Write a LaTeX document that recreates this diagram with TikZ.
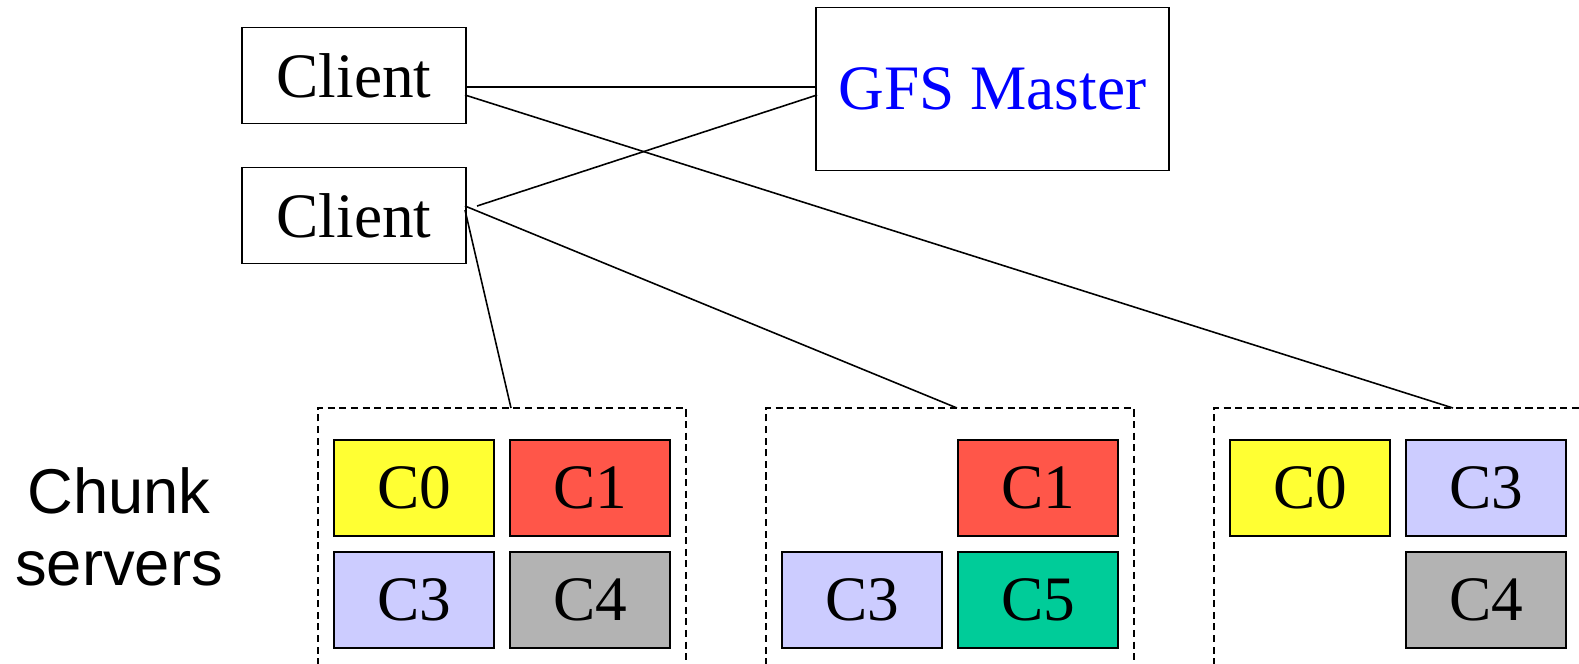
\documentclass[tikz,border=0pt]{standalone}
\usepackage{fontspec}
\setmainfont{Liberation Serif}
\setsansfont{Liberation Sans}
\definecolor{cyellow}{HTML}{FFFF33}
\definecolor{cred}{HTML}{FF5649}
\definecolor{cblue}{HTML}{CCCCFF}
\definecolor{cgray}{HTML}{B3B3B3}
\definecolor{cgreen}{HTML}{00CC99}

\begin{document}
\begin{tikzpicture}[x=0.01cm,y=-0.01cm,
	box/.style={draw,line width=0.45pt,inner sep=0pt,font=\fontsize{18}{21}\selectfont},
	client/.style={box,minimum width=2.24cm,minimum height=0.96cm},
	chunk/.style={box,line width=0.6pt,minimum width=1.6cm,minimum height=0.96cm},
	server/.style={line width=0.45pt,dash pattern=on 2pt off 1.3pt},
	link/.style={line width=0.45pt}]
	\useasboundingbox (0,0) rectangle (1579,663);
	\clip (0,0) rectangle (1579,663);
	\node[client] (cl1) at (354,75.5) {Client};
	\node[client] (cl2) at (354,215.5) {Client};
	\node[box,minimum width=3.53cm,minimum height=1.63cm,text=blue] (master) at (992.5,89) {GFS Master};
	\node[align=center,font=\sffamily\fontsize{18}{20.5}\selectfont] (label) at (119,527) {Chunk\\servers};
	% chunk servers
	\draw[server] (318,700) -- (318,408) -- (686,408) -- (686,700);
	\draw[server] (766,700) -- (766,408) -- (1134,408) -- (1134,700);
	\draw[server] (1214,700) -- (1214,408) -- (1582,408) -- (1582,700);
	\node[chunk,fill=cyellow] (s1c0) at (414,488) {C0};
	\node[chunk,fill=cred] (s1c1) at (590,488) {C1};
	\node[chunk,fill=cblue] (s1c3) at (414,600) {C3};
	\node[chunk,fill=cgray] (s1c4) at (590,600) {C4};
	\node[chunk,fill=cred] (s2c1) at (1038,488) {C1};
	\node[chunk,fill=cblue] (s2c3) at (862,600) {C3};
	\node[chunk,fill=cgreen] (s2c5) at (1038,600) {C5};
	\node[chunk,fill=cyellow] (s3c0) at (1310,488) {C0};
	\node[chunk,fill=cblue] (s3c3) at (1486,488) {C3};
	\node[chunk,fill=cgray] (s3c4) at (1486,600) {C4};
	% link ends
	\coordinate (cl1a) at (465,87);
	\coordinate (cl1b) at (465,95);
	\coordinate (cl2m) at (477,206);
	\coordinate (cl2a) at (465,206);
	\coordinate (cl2b) at (465,210);
	\coordinate (ma) at (817,87);
	\coordinate (mb) at (817,95);
	\coordinate (srv1) at (511,408);
	\coordinate (srv2) at (957,408);
	\coordinate (srv3) at (1453,408);
	\draw[link] (cl1a) -- (ma);
	\draw[link] (cl1b) -- (srv3);
	\draw[link] (cl2m) -- (mb);
	\draw[link] (cl2a) -- (srv2);
	\draw[link] (cl2b) -- (srv1);
\end{tikzpicture}
\end{document}
